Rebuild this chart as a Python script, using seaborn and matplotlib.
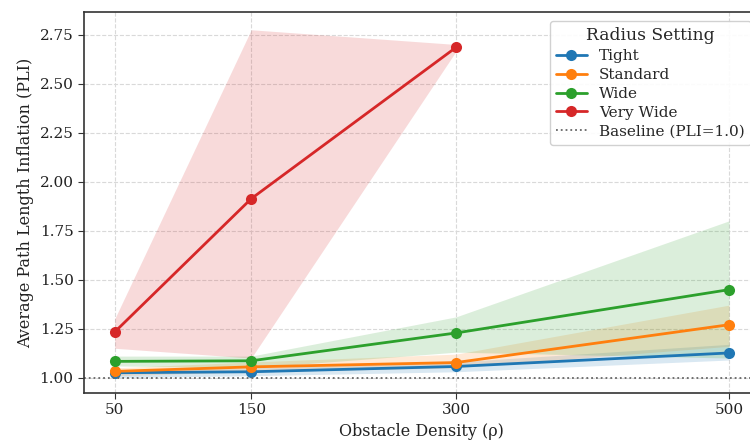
import matplotlib
matplotlib.use("Agg")
import matplotlib.pyplot as plt
import seaborn as sns
import pandas as pd

density = [50, 150, 300, 500]
settings = ["Tight", "Standard", "Wide", "Very Wide"]

tight_mean = [1.025, 1.030, 1.057, 1.126]
tight_low = [1.00, 1.01, 1.03, 1.09]
tight_high = [1.04, 1.05, 1.08, 1.17]

standard_mean = [1.032, 1.055, 1.077, 1.270]
standard_low = [1.01, 1.03, 1.05, 1.16]
standard_high = [1.05, 1.08, 1.12, 1.37]

wide_mean = [1.083, 1.086, 1.228, 1.449]
wide_low = [1.06, 1.05, 1.13, 1.10]
wide_high = [1.11, 1.11, 1.31, 1.80]

verywide_mean = [1.233, 1.913, 2.685, None]
verywide_low = [1.15, 1.10, 2.665, None]
verywide_high = [1.30, 2.775, 2.70, None]

means = [tight_mean, standard_mean, wide_mean, verywide_mean]
lows = [tight_low, standard_low, wide_low, verywide_low]
highs = [tight_high, standard_high, wide_high, verywide_high]

rows = []
for s, m in zip(settings, means):
    for d, v in zip(density, m):
        if v is not None:
            rows.append({"density": d, "PLI": v, "setting": s})
df = pd.DataFrame(rows)

sns.set_style("whitegrid", {
    "grid.linestyle": "--",
    "grid.color": "#d9d9d9",
    "axes.edgecolor": "#333333",
    "xtick.bottom": True,
    "ytick.left": True,
})
plt.rcParams["font.family"] = ["DejaVu Serif"]

colors = sns.color_palette("tab10", 4)

fig = plt.figure(figsize=(7.5, 4.42), dpi=100)
ax = fig.add_axes([0.112, 0.111, 0.901, 0.862])

for s, lo, hi, c in zip(settings, lows, highs, colors):
    xs = [d for d, l in zip(density, lo) if l is not None]
    los = [l for l in lo if l is not None]
    his = [h for h in hi if h is not None]
    ax.fill_between(xs, los, his, color=c, alpha=0.17, linewidth=0)

sns.lineplot(data=df, x="density", y="PLI", hue="setting", hue_order=settings,
             palette=colors, marker="o", markersize=8, markeredgewidth=0,
             linewidth=2, ax=ax, legend=True)

ax.axhline(1.0, color="#666666", linestyle=":", linewidth=1.3, label="Baseline (PLI=1.0)")

ax.set_xticks(density)
ax.set_xlim(27.5, 522.5)
ax.set_ylim(0.922, 2.866)
ax.set_yticks([1.0, 1.25, 1.5, 1.75, 2.0, 2.25, 2.5, 2.75])
ax.set_yticklabels(["1.00", "1.25", "1.50", "1.75", "2.00", "2.25", "2.50", "2.75"])
ax.tick_params(labelsize=11, colors="#333333", length=4)
ax.tick_params(labelcolor="#222222")
ax.set_xlabel("Obstacle Density (ρ)", fontsize=11.5, color="#222222")
ax.set_ylabel("Average Path Length Inflation (PLI)", fontsize=11.5, color="#222222")
for sp in ax.spines.values():
    sp.set_linewidth(1.2)

handles, labels = ax.get_legend_handles_labels()
ax.legend(handles, labels, title="Radius Setting", loc="upper right",
          fontsize=11, title_fontsize=12.3, frameon=True, framealpha=0.9,
          edgecolor="#cccccc", labelspacing=0.32, borderaxespad=0.6)

fig.savefig("out.png", dpi=100)
